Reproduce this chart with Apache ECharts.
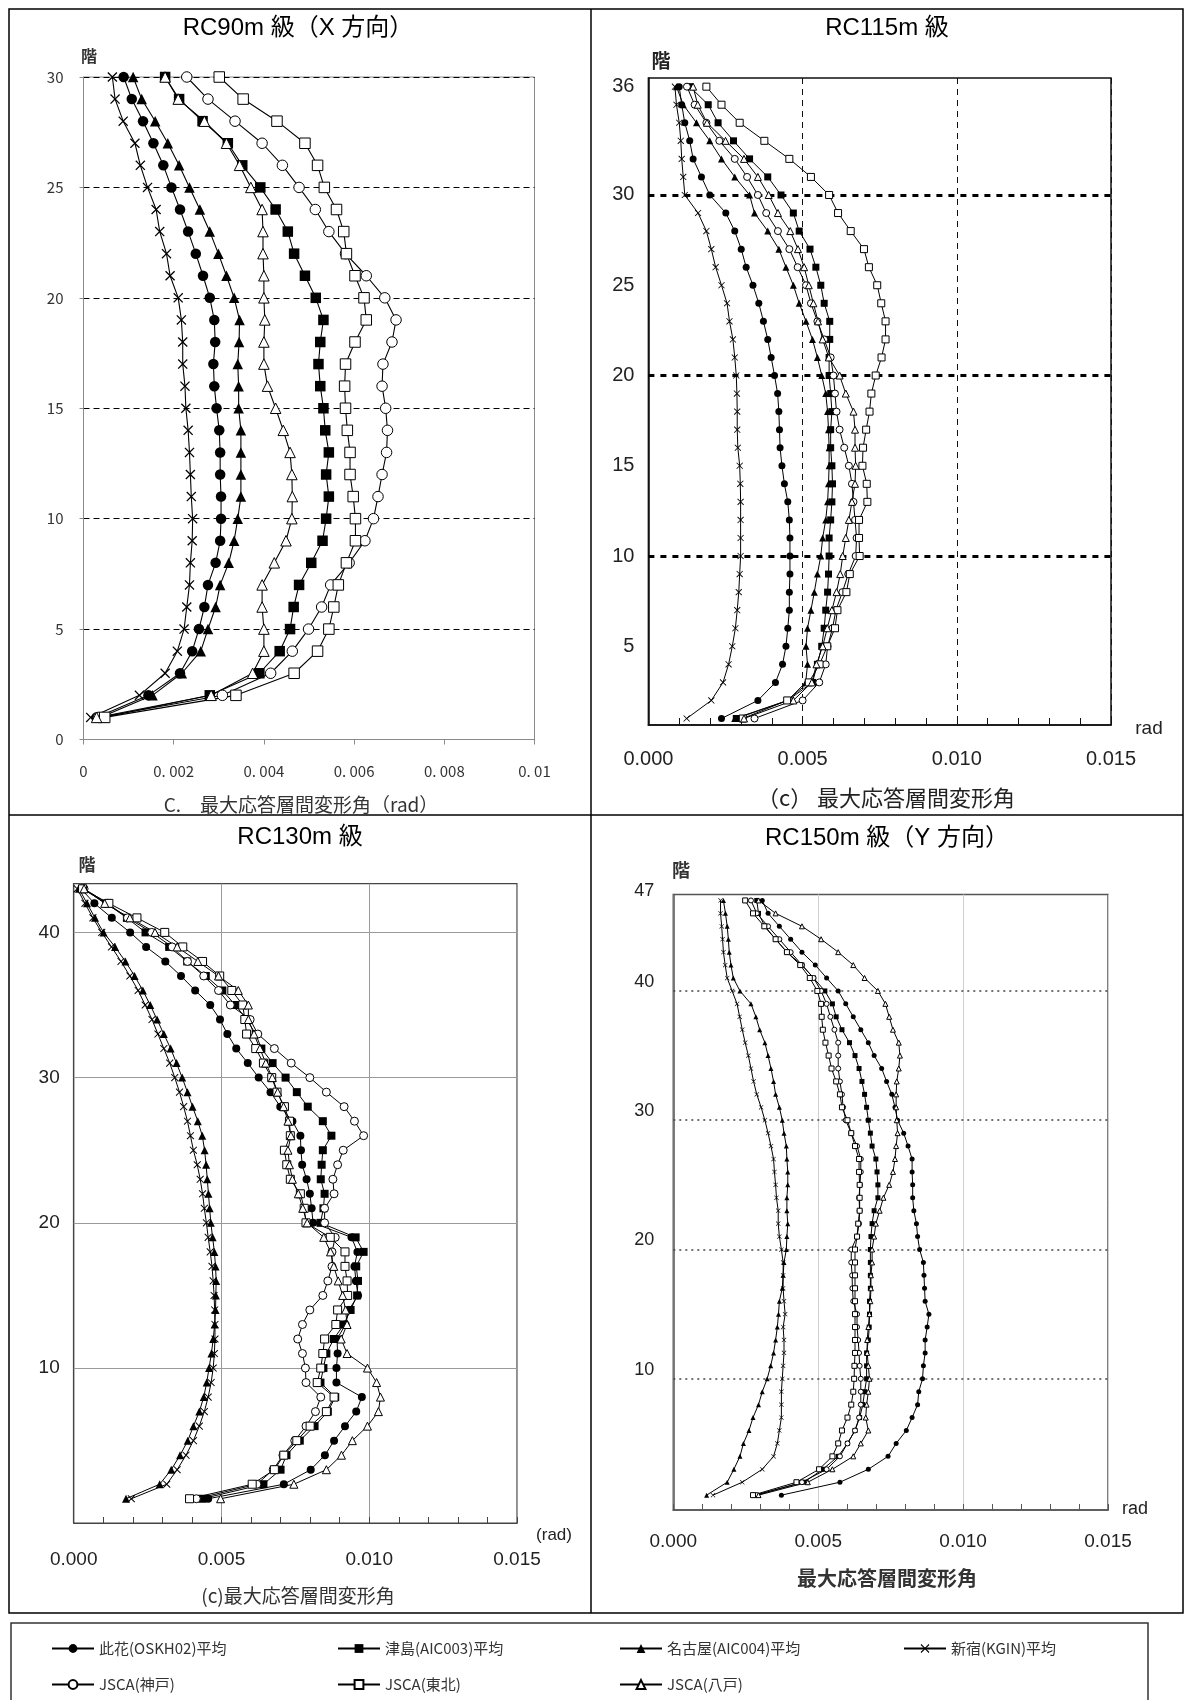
<!DOCTYPE html>
<html>
<head>
<meta charset="utf-8">
<script src="https://cdn.jsdelivr.net/npm/echarts@6/dist/echarts.min.js"></script>
<style>
  html, body { margin: 0; padding: 0; background: #fff; }
  #chart { width: 1184px; height: 1700px; }
</style>
</head>
<body>
<div id="chart"></div>
<script>
// Maximum story drift angle per floor, in units of 1e-3 rad (floor 1 first).
const MRAD = 1e-3;

const SERIES_NAMES = ['此花(OSKH02)平均', '津島(AIC003)平均', '名古屋(AIC004)平均', '新宿(KGIN)平均',
                      'JSCA(神戸)', 'JSCA(東北)', 'JSCA(八戸)'];

// ---- RC90m (X direction) ----
const rc90Floors = [1,2,3,4,5,6,7,8,9,10,11,12,13,14,15,16,17,18,19,20,21,22,23,24,25,26,27,28,29,30];
const rc90Konohana  = [0.29,1.44,2.14,2.41,2.56,2.68,2.76,2.93,3.03,3.05,3.05,3.03,3.03,3.01,2.95,2.90,2.88,2.92,2.90,2.80,2.65,2.49,2.32,2.14,1.95,1.77,1.55,1.32,1.07,0.89];
const rc90Tsushima  = [0.44,2.80,3.90,4.35,4.58,4.66,4.78,5.05,5.30,5.38,5.44,5.38,5.44,5.36,5.32,5.25,5.21,5.25,5.32,5.15,4.91,4.67,4.53,4.26,3.92,3.52,3.20,2.64,2.12,1.81];
const rc90Nagoya    = [0.37,1.53,2.18,2.60,2.76,2.93,3.03,3.22,3.34,3.42,3.49,3.49,3.49,3.49,3.44,3.44,3.42,3.45,3.46,3.34,3.17,2.99,2.80,2.58,2.35,2.12,1.87,1.59,1.29,1.10];
const rc90Shinjuku  = [0.16,1.24,1.81,2.08,2.23,2.29,2.35,2.37,2.41,2.42,2.39,2.37,2.35,2.32,2.27,2.25,2.20,2.20,2.17,2.10,1.92,1.84,1.69,1.61,1.42,1.26,1.14,0.88,0.70,0.64];
const rc90Kobe      = [0.33,3.08,4.15,4.63,4.99,5.28,5.48,5.89,6.24,6.43,6.53,6.62,6.72,6.74,6.70,6.62,6.64,6.84,6.93,6.68,6.27,5.81,5.44,5.14,4.78,4.41,3.96,3.36,2.76,2.29];
const rc90Tohoku    = [0.47,3.38,4.67,5.19,5.44,5.55,5.65,5.83,6.03,6.03,5.98,5.91,5.91,5.85,5.81,5.79,5.81,6.02,6.27,6.22,6.02,5.83,5.77,5.61,5.34,5.19,4.91,4.29,3.54,3.01];
const rc90Hachinohe = [0.29,2.83,3.75,4.00,4.00,3.96,3.96,4.23,4.49,4.62,4.63,4.62,4.58,4.43,4.26,4.08,4.00,4.00,4.02,4.00,4.00,3.98,3.98,3.96,3.71,3.46,3.17,2.68,2.10,1.81];

// ---- RC115m ----
const rc115Floors = [1,2,3,4,5,6,7,8,9,10,11,12,13,14,15,16,17,18,19,20,21,22,23,24,25,26,27,28,29,30,31,32,33,34,35,36];
const rc115Konohana  = [2.37,3.55,4.12,4.35,4.46,4.52,4.57,4.57,4.59,4.59,4.59,4.57,4.52,4.41,4.33,4.27,4.25,4.23,4.19,4.09,3.98,3.87,3.73,3.58,3.39,3.17,3.01,2.80,2.51,1.99,1.72,1.45,1.34,1.18,1.08,1.00];
const rc115Tsushima  = [2.85,4.52,5.32,5.48,5.62,5.70,5.75,5.81,5.84,5.86,5.86,5.91,5.95,5.97,5.95,5.91,5.91,5.95,5.91,5.86,5.86,5.88,5.88,5.70,5.59,5.43,5.24,4.89,4.70,4.30,3.87,3.28,2.76,2.26,1.94,1.34];
const rc115Nagoya    = [2.80,4.52,5.10,5.16,5.11,5.16,5.27,5.38,5.48,5.59,5.65,5.75,5.81,5.84,5.86,5.86,5.84,5.81,5.75,5.62,5.48,5.32,5.11,4.89,4.70,4.46,4.23,3.87,3.44,3.28,2.80,2.37,1.99,1.56,1.13,0.91];
const rc115Shinjuku  = [1.24,2.04,2.42,2.60,2.72,2.82,2.88,2.93,2.96,2.99,2.99,2.99,2.99,2.98,2.96,2.90,2.88,2.88,2.87,2.85,2.80,2.74,2.63,2.55,2.37,2.18,2.04,1.88,1.61,1.18,1.13,1.08,1.05,1.00,0.91,0.86];
const rc115Kobe      = [3.44,5.00,5.54,5.75,5.81,5.97,6.08,6.29,6.48,6.72,6.75,6.70,6.65,6.60,6.50,6.35,6.20,6.10,6.05,6.00,5.91,5.70,5.48,5.27,5.11,4.84,4.57,4.20,3.82,3.55,3.20,2.80,2.30,1.88,1.50,1.25];
const rc115Tohoku    = [3.06,4.50,5.20,5.55,5.80,6.05,6.13,6.42,6.53,6.85,6.83,6.83,7.10,7.08,6.94,6.96,7.06,7.17,7.23,7.37,7.56,7.69,7.69,7.55,7.42,7.15,6.99,6.56,6.15,5.86,5.27,4.57,3.76,2.96,2.37,1.88];
const rc115Hachinohe = [3.10,4.70,5.30,5.45,5.65,5.80,5.95,6.10,6.22,6.30,6.40,6.50,6.60,6.70,6.72,6.70,6.70,6.65,6.40,6.20,5.85,5.65,5.50,5.35,5.20,5.05,4.85,4.60,4.20,3.90,3.55,3.10,2.50,1.90,1.60,1.45];

// ---- RC130m ----
const rc130Floors = [1,2,3,4,5,6,7,8,9,10,11,12,13,14,15,16,17,18,19,20,21,22,23,24,25,26,27,28,29,30,31,32,33,34,35,36,37,38,39,40,41,42,43];
const rc130Konohana  = [4.55,7.11,8.02,8.50,8.81,9.18,9.56,9.75,8.89,8.89,8.93,8.91,9.20,9.31,9.62,9.55,9.50,9.60,9.40,8.10,8.05,7.99,7.88,7.73,7.69,7.67,7.40,6.99,6.66,6.26,5.89,5.50,5.20,4.95,4.62,4.11,3.63,3.10,2.45,1.91,1.29,0.70,0.25];
const rc130Tsushima  = [4.35,6.42,7.00,7.20,7.65,8.15,8.60,8.85,8.35,8.45,8.55,8.80,9.14,9.37,9.59,9.62,9.56,9.81,9.54,8.35,8.45,8.49,8.36,8.39,8.43,8.72,8.43,7.92,7.55,7.17,6.73,6.35,6.16,5.85,5.47,5.03,4.47,3.84,3.23,2.43,1.80,1.10,0.30];
const rc130Nagoya    = [1.77,2.91,3.30,3.60,3.86,4.05,4.25,4.40,4.50,4.58,4.66,4.72,4.77,4.80,4.81,4.82,4.80,4.76,4.70,4.64,4.60,4.56,4.52,4.48,4.43,4.35,4.20,4.02,3.85,3.67,3.48,3.28,3.05,2.82,2.59,2.34,2.06,1.75,1.40,1.01,0.72,0.45,0.18];
const rc130Shinjuku  = [1.95,3.15,3.50,3.80,4.05,4.25,4.42,4.55,4.65,4.72,4.76,4.78,4.78,4.77,4.75,4.72,4.68,4.62,4.55,4.49,4.42,4.36,4.28,4.18,4.05,3.95,3.85,3.72,3.58,3.42,3.25,3.05,2.85,2.65,2.42,2.18,1.90,1.60,1.28,0.95,0.65,0.38,0.12];
const rc130Kobe      = [4.15,6.20,6.75,7.08,7.48,7.86,8.18,8.36,7.86,7.84,7.74,7.58,7.74,7.99,8.43,8.60,8.74,8.74,8.85,8.49,8.49,8.81,8.77,8.93,9.12,9.81,9.50,9.15,8.55,7.99,7.36,6.79,6.23,5.97,5.30,4.90,4.40,3.85,3.33,2.64,1.82,1.15,0.35];
const rc130Tohoku    = [3.92,6.04,6.79,7.11,7.55,8.00,8.55,8.81,8.24,8.36,8.43,8.49,8.87,8.93,9.27,9.25,9.18,9.18,8.68,7.86,7.80,7.67,7.33,7.21,7.13,7.33,7.30,7.13,6.88,6.70,6.42,6.16,5.85,5.79,5.72,5.35,4.94,4.36,3.69,3.08,2.14,1.19,0.30];
const rc130Hachinohe = [4.97,7.45,8.55,9.06,9.43,9.94,10.31,10.38,10.25,9.94,9.25,9.05,9.25,9.20,9.10,8.95,8.80,8.69,8.46,7.90,7.75,7.60,7.40,7.30,7.25,7.35,7.25,7.10,6.90,6.72,6.50,6.30,6.10,5.91,5.91,5.57,4.90,4.20,3.50,2.75,1.90,1.05,0.35];

// ---- RC150m (Y direction) ----
const rc150Floors = [1,2,3,4,5,6,7,8,9,10,11,12,13,14,15,16,17,18,19,20,21,22,23,24,25,26,27,28,29,30,31,32,33,34,35,36,37,38,39,40,41,42,43,44,45,46,47];
const rc150Konohana  = [3.73,5.75,6.73,7.41,7.69,8.04,8.24,8.43,8.47,8.60,8.63,8.69,8.69,8.76,8.82,8.69,8.67,8.65,8.63,8.50,8.43,8.39,8.30,8.26,8.26,8.24,8.24,8.10,7.95,7.74,7.65,7.54,7.36,7.19,6.93,6.73,6.47,6.21,5.95,5.69,5.29,4.90,4.44,4.05,3.66,3.27,3.07];
const rc150Tsushima  = [2.81,4.51,5.16,5.69,6.01,6.27,6.43,6.54,6.60,6.67,6.67,6.67,6.73,6.76,6.77,6.77,6.80,6.80,6.80,6.80,6.82,6.86,6.93,7.06,7.06,7.03,6.99,6.86,6.80,6.73,6.67,6.60,6.51,6.41,6.27,6.08,5.82,5.62,5.49,5.23,4.84,4.44,3.92,3.53,3.16,2.94,2.88];
const rc150Nagoya    = [1.15,1.86,2.09,2.30,2.42,2.61,2.75,2.94,3.07,3.24,3.36,3.46,3.53,3.59,3.63,3.66,3.76,3.79,3.82,3.90,3.92,3.95,3.92,3.92,3.95,3.95,3.92,3.90,3.82,3.76,3.66,3.53,3.46,3.37,3.27,3.16,2.98,2.85,2.68,2.30,2.07,1.99,1.93,1.90,1.86,1.80,1.73];
const rc150Shinjuku  = [1.37,2.38,3.07,3.46,3.59,3.66,3.73,3.73,3.73,3.76,3.79,3.82,3.82,3.79,3.86,3.82,3.79,3.79,3.79,3.73,3.66,3.62,3.62,3.56,3.53,3.49,3.46,3.37,3.27,3.16,3.03,2.88,2.77,2.68,2.59,2.48,2.38,2.29,2.20,2.03,1.86,1.79,1.73,1.70,1.67,1.63,1.63];
const rc150Kobe      = [2.88,4.44,5.29,5.75,6.01,6.27,6.41,6.47,6.47,6.47,6.43,6.41,6.38,6.34,6.34,6.21,6.18,6.17,6.14,6.14,6.34,6.41,6.43,6.41,6.44,6.47,6.47,6.34,6.14,5.95,5.86,5.82,5.75,5.69,5.69,5.69,5.56,5.42,5.29,5.10,4.84,4.44,4.05,3.66,3.27,2.88,2.68];
const rc150Tohoku    = [2.75,4.25,5.03,5.49,5.69,5.82,6.01,6.14,6.21,6.24,6.25,6.27,6.27,6.27,6.27,6.27,6.27,6.27,6.27,6.27,6.34,6.38,6.43,6.43,6.43,6.41,6.41,6.27,6.14,6.01,5.82,5.75,5.62,5.46,5.36,5.25,5.16,5.12,5.10,4.97,4.71,4.38,3.92,3.53,3.14,2.75,2.48];
const rc150Hachinohe = [2.94,4.64,5.49,6.21,6.47,6.73,6.64,6.67,6.73,6.77,6.73,6.69,6.69,6.73,6.77,6.80,6.82,6.82,6.86,6.86,6.93,6.99,7.12,7.25,7.45,7.58,7.65,7.69,7.74,7.71,7.69,7.69,7.71,7.78,7.82,7.78,7.58,7.45,7.32,7.06,6.60,6.21,5.69,5.10,4.44,3.53,2.94];

// Axis tick labels
const rc115YLabels = [5, 10, 15, 20, 25, 30, 36];
const rc130YLabels = [10, 20, 30, 40];
const rc150YLabels = [10, 20, 30, 40, 47];

// ---- styling ----
const LATIN = '"Liberation Sans", "Noto Sans CJK JP", sans-serif';
const CJK = '"Noto Sans CJK JP", sans-serif';
const CROSS = 'path://M0,0.9L0.9,0L5,4.1L9.1,0L10,0.9L5.9,5L10,9.1L9.1,10L5,5.9L0.9,10L0,9.1L4.1,5Z';

// marker style per series (same order as SERIES_NAMES)
const MARKERS = [
  { symbol: 'circle',   fill: '#000', border: 0 },
  { symbol: 'rect',     fill: '#000', border: 0 },
  { symbol: 'triangle', fill: '#000', border: 0 },
  { symbol: CROSS,      fill: '#000', border: 0 },
  { symbol: 'circle',   fill: '#fff', border: 1 },
  { symbol: 'rect',     fill: '#fff', border: 1 },
  { symbol: 'triangle', fill: '#fff', border: 1 }
];

const panels = [
  { floors: rc90Floors,  size: 10.5, line: 1.1, sets: [rc90Konohana, rc90Tsushima, rc90Nagoya, rc90Shinjuku, rc90Kobe, rc90Tohoku, rc90Hachinohe] },
  { floors: rc115Floors, size: 7,  line: 1,   sets: [rc115Konohana, rc115Tsushima, rc115Nagoya, rc115Shinjuku, rc115Kobe, rc115Tohoku, rc115Hachinohe],
    grid: { data: [{ yAxis: 10 }, { yAxis: 20 }, { yAxis: 30 }], lineStyle: { color: '#000', width: 3, type: [6, 6] } } },
  { floors: rc130Floors, size: 8,  line: 1,   sets: [rc130Konohana, rc130Tsushima, rc130Nagoya, rc130Shinjuku, rc130Kobe, rc130Tohoku, rc130Hachinohe],
    grid: { data: [{ yAxis: 10 }, { yAxis: 20 }, { yAxis: 30 }, { yAxis: 40 }], lineStyle: { color: '#9a9a9a', width: 1, type: 'solid' } } },
  { floors: rc150Floors, size: 5,  line: 1,   sets: [rc150Konohana, rc150Tsushima, rc150Nagoya, rc150Shinjuku, rc150Kobe, rc150Tohoku, rc150Hachinohe],
    grid: { data: [{ yAxis: 10 }, { yAxis: 20 }, { yAxis: 30 }, { yAxis: 40 }], lineStyle: { color: '#444', width: 1.5, type: [2, 4] } } }
];

const series = [];
panels.forEach((p, gi) => {
  p.sets.forEach((vals, si) => {
    const m = MARKERS[si];
    const s = {
      type: 'line',
      name: SERIES_NAMES[si],
      xAxisIndex: gi,
      yAxisIndex: gi,
      data: p.floors.map((f, i) => [vals[i] * MRAD, f]),
      symbol: m.symbol,
      symbolSize: si === 3 ? p.size * 0.95 : p.size,
      showAllSymbol: true,
      clip: false,
      lineStyle: { color: '#000', width: p.line },
      itemStyle: { color: m.fill, borderColor: '#000', borderWidth: m.border },
      emphasis: { disabled: true },
      silent: true,
      z: 3
    };
    if (si === 3 && p.grid) {
      s.markLine = {
        silent: true, animation: false, symbol: ['none', 'none'], z: 1,
        label: { show: false }, lineStyle: p.grid.lineStyle, data: p.grid.data
      };
    }
    series.push(s);
  });
});

const fmt3 = v => v.toFixed(3);
const fmtRc90 = v => {
  const m = Math.round(v * 1000);
  if (m === 0) return '0';
  if (m === 10) return '0. 01';
  return '0. 00' + m;
};

const labelStyle = (size, family, extra) => Object.assign({ fontSize: size, fontFamily: family, color: '#222' }, extra || {});

const xAxis = [
  { gridIndex: 0, type: 'value', min: 0, max: 0.01, interval: 0.002,
    axisLine: { onZero: false, lineStyle: { color: '#8a8a8a', width: 1 } },
    axisTick: { show: true, length: 5, lineStyle: { color: '#8a8a8a' } },
    splitLine: { show: false },
    axisLabel: labelStyle(15, CJK, { margin: 24, formatter: fmtRc90, color: '#333' }) },
  { gridIndex: 1, type: 'value', min: 0, max: 0.015, interval: 0.005,
    axisLine: { onZero: false, lineStyle: { color: '#111', width: 1.5 } },
    axisTick: { show: true, inside: true, length: 7, lineStyle: { color: '#111' } },
    minorTick: { show: true, splitNumber: 5, length: 7, lineStyle: { color: '#111' } },
    splitLine: { show: true, lineStyle: { color: '#111', width: 1, type: [6, 5] } },
    axisLabel: labelStyle(20, LATIN, { margin: 24, formatter: fmt3 }) },
  { gridIndex: 2, type: 'value', min: 0, max: 0.015, interval: 0.005,
    axisLine: { onZero: false, lineStyle: { color: '#444', width: 1.2 } },
    axisTick: { show: true, inside: true, length: 6, lineStyle: { color: '#444' } },
    minorTick: { show: true, splitNumber: 5, length: 6, lineStyle: { color: '#444' } },
    splitLine: { show: true, lineStyle: { color: '#9a9a9a', width: 1 } },
    axisLabel: labelStyle(19, LATIN, { margin: 27, formatter: fmt3 }) },
  { gridIndex: 3, type: 'value', min: 0, max: 0.015, interval: 0.005,
    axisLine: { onZero: false, lineStyle: { color: '#555', width: 1.5 } },
    axisTick: { show: true, inside: true, length: 6, lineStyle: { color: '#555' } },
    minorTick: { show: true, splitNumber: 5, length: 6, lineStyle: { color: '#555' } },
    splitLine: { show: true, lineStyle: { color: '#cfcfcf', width: 1 } },
    axisLabel: labelStyle(19, LATIN, { margin: 22, formatter: fmt3 }) }
];

const yAxis = [
  { gridIndex: 0, type: 'value', min: 0, max: 30, interval: 5,
    axisLine: { show: true, onZero: false, lineStyle: { color: '#8a8a8a', width: 1 } },
    axisTick: { show: true, length: 4, lineStyle: { color: '#8a8a8a' } },
    splitLine: { show: true, lineStyle: { color: '#000', width: 1.1, type: [6, 4] } },
    axisLabel: labelStyle(15, CJK, { margin: 20, color: '#333' }) },
  { gridIndex: 1, type: 'value', min: 0.64, max: 36.48,
    axisLine: { show: true, onZero: false, lineStyle: { color: '#111', width: 1.5 } },
    axisTick: { show: false }, splitLine: { show: false },
    axisLabel: labelStyle(20, LATIN, { margin: 14, customValues: rc115YLabels }) },
  { gridIndex: 2, type: 'value', min: -0.67, max: 43.36,
    axisLine: { show: true, onZero: false, lineStyle: { color: '#444', width: 1.2 } },
    axisTick: { show: false }, splitLine: { show: false },
    axisLabel: labelStyle(19, LATIN, { margin: 14, customValues: rc130YLabels }) },
  { gridIndex: 3, type: 'value', min: -0.15, max: 47.46,
    axisLine: { show: true, onZero: false, lineStyle: { color: '#555', width: 1.5 } },
    axisTick: { show: false }, splitLine: { show: false },
    axisLabel: labelStyle(18, LATIN, { margin: 19, customValues: rc150YLabels, verticalAlign: 'bottom' }) }
];

const grid = [
  { left: 83.5,  top: 77,    width: 451,   height: 662.5, show: true, borderColor: '#8a8a8a', borderWidth: 1 },
  { left: 648.4, top: 78,    width: 462.6, height: 647,   show: true, borderColor: '#111',    borderWidth: 1.5 },
  { left: 73.7,  top: 883.6, width: 443.3, height: 639.4, show: true, borderColor: '#444',    borderWidth: 1.2 },
  { left: 673.3, top: 894.5, width: 434.7, height: 615.5, show: true, borderColor: '#555',    borderWidth: 1.5 }
];

const legendBase = {
  orient: 'vertical', top: 1636, itemWidth: 42, itemHeight: 11, itemGap: 21,
  selectedMode: false,
  textStyle: { fontSize: 15, color: '#333', fontFamily: CJK }
};
const legend = [
  Object.assign({}, legendBase, { left: 46,  data: [SERIES_NAMES[0], SERIES_NAMES[4]] }),
  Object.assign({}, legendBase, { left: 332, data: [SERIES_NAMES[1], SERIES_NAMES[5]] }),
  Object.assign({}, legendBase, { left: 614, data: [SERIES_NAMES[2], SERIES_NAMES[6]] }),
  Object.assign({}, legendBase, { left: 898, data: [SERIES_NAMES[3]] })
];

function txt(x, y, text, font, extra) {
  return {
    type: 'text', x: x, y: y, silent: true, z: 10,
    style: Object.assign({
      text: text, font: font, fill: '#000',
      textAlign: 'center', textVerticalAlign: 'middle',
      align: 'center', verticalAlign: 'middle'
    }, extra || {})
  };
}
const TITLE_FONT = '24px ' + LATIN;
const graphic = [
  // panel frame
  { type: 'rect', silent: true, z: 10, shape: { x: 9, y: 9, width: 1174, height: 1604 }, style: { fill: 'none', stroke: '#000', lineWidth: 1.5 } },
  { type: 'line', silent: true, z: 10, shape: { x1: 591, y1: 9, x2: 591, y2: 1613 }, style: { stroke: '#000', lineWidth: 1.5 } },
  { type: 'line', silent: true, z: 10, shape: { x1: 9, y1: 815, x2: 1183, y2: 815 }, style: { stroke: '#000', lineWidth: 1.5 } },
  // legend box
  { type: 'rect', silent: true, z: 10, shape: { x: 11, y: 1623, width: 1137, height: 120 }, style: { fill: 'none', stroke: '#333', lineWidth: 1.5 } },
  // titles
  txt(298, 28, 'RC90m 級（X 方向）', TITLE_FONT),
  txt(887, 28, 'RC115m 級', TITLE_FONT),
  txt(300, 837, 'RC130m 級', TITLE_FONT),
  txt(887, 838, 'RC150m 級（Y 方向）', TITLE_FONT),
  // floor labels
  txt(89, 56, '階', 'bold 16px ' + CJK, { fill: '#333' }),
  txt(661, 61, '階', 'bold 19px ' + CJK, { fill: '#222' }),
  txt(87, 865, '階', 'bold 17px ' + CJK, { fill: '#333' }),
  txt(681, 870, '階', 'bold 18px ' + CJK, { fill: '#333' }),
  // unit labels
  txt(1149, 729, 'rad', '19px ' + LATIN, { fill: '#222' }),
  txt(554, 1535, '(rad)', '17px ' + LATIN, { fill: '#222' }),
  txt(1135, 1509, 'rad', '18px ' + LATIN, { fill: '#222' }),
  // axis titles
  txt(301, 805, 'C.　最大応答層間変形角（rad）', '19px ' + CJK, { fill: '#333' }),
  txt(886, 798, '（c） 最大応答層間変形角', '22px ' + CJK, { fill: '#222' }),
  txt(298, 1596, '(c)最大応答層間変形角', '19px ' + CJK, { fill: '#333' }),
  txt(887, 1578, '最大応答層間変形角', 'bold 20px ' + CJK, { fill: '#333' })
];

const chart = echarts.init(document.getElementById('chart'), null, { renderer: 'canvas' });
chart.setOption({
  backgroundColor: '#ffffff',
  animation: false,
  grid: grid,
  xAxis: xAxis,
  yAxis: yAxis,
  legend: legend,
  series: series,
  graphic: graphic
});
</script>
</body>
</html>
